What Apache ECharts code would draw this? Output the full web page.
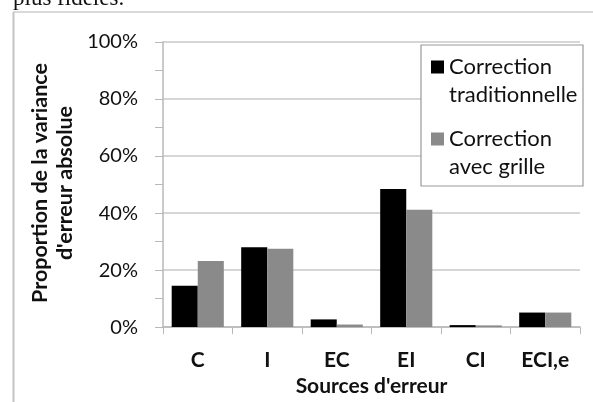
<!DOCTYPE html>
<html><head><meta charset="utf-8">
<script src="https://cdn.jsdelivr.net/npm/echarts@6/dist/echarts.min.js"></script>
<style>html,body{margin:0;padding:0;background:#fff}#c{width:593px;height:402px}</style>
</head><body><div id="c"></div>
<script>
var categories = ['C', 'I', 'EC', 'EI', 'CI', 'ECI,e'];
var seriesNames = ['Correction\ntraditionnelle', 'Correction\navec grille'];
var traditionnelle = [0.145, 0.280, 0.027, 0.484, 0.007, 0.051];
var avecGrille = [0.232, 0.275, 0.009, 0.412, 0.006, 0.051];
var yTicks = [0, 0.2, 0.4, 0.6, 0.8, 1.0];
var yTitle = "Proportion de la variance\nd'erreur absolue";
var xTitle = "Sources d'erreur";
var FONT = 'Lato';

var chart = echarts.init(document.getElementById('c'), null, {renderer: 'canvas'});
function legendFor(i, top) {
  return {
    data: [seriesNames[i]], left: 431, top: top, orient: 'vertical', padding: 0,
    icon: 'rect', itemWidth: 13, itemHeight: 13, itemGap: 7,
    formatter: function (name) { return '\n' + name; },
    textStyle: {fontFamily: FONT, fontSize: 22, color: '#111', lineHeight: 28}
  };
}
chart.setOption({
  animation: false,
  grid: {left: 163, right: 13, top: 42, bottom: 68},
  legend: [legendFor(0, 25), legendFor(1, 97)],
  xAxis: {
    type: 'category', data: categories,
    axisLine: {lineStyle: {color: '#b8b8b8', width: 1.5}},
    axisTick: {show: true, length: 7, lineStyle: {color: '#b8b8b8'}},
    axisLabel: {fontFamily: FONT, fontWeight: 'bold', fontSize: 21, color: '#111', margin: 23},
    name: xTitle, nameLocation: 'middle', nameGap: 38,
    nameTextStyle: {fontFamily: FONT, fontWeight: 'bold', fontSize: 21, color: '#111'}
  },
  yAxis: {
    type: 'value', min: 0, max: 1, interval: 0.2,
    axisLine: {show: true, lineStyle: {color: '#b8b8b8', width: 1.5}},
    axisTick: {show: true, length: 8, lineStyle: {color: '#b8b8b8'}},
    minorTick: {show: true, splitNumber: 2, length: 8, lineStyle: {color: '#b8b8b8'}},
    splitLine: {lineStyle: {color: '#c8c8c8', width: 1.5}},
    axisLabel: {fontFamily: FONT, fontSize: 20, color: '#111', margin: 25, padding: [8, 0, 0, 0],
      formatter: function (v) { return Math.round(v * 100) + '%'; }}
  },
  series: [
    {name: seriesNames[0], type: 'bar', data: traditionnelle, barGap: '0%', barCategoryGap: '25%',
      itemStyle: {color: '#000'}},
    {name: seriesNames[1], type: 'bar', data: avecGrille, barGap: '0%', barCategoryGap: '25%',
      itemStyle: {color: '#8a8a8a'}}
  ],
  graphic: [
    {type: 'text', left: 13, top: -13, z: 10,
      style: {text: 'plus fidèles.', fontFamily: 'Liberation Serif', fontSize: 23, fill: '#111'}},
    {type: 'line', z: 10, shape: {x1: 13.5, y1: 12, x2: 13.5, y2: 402}, style: {stroke: '#c4c4c4', lineWidth: 2}},
    {type: 'line', z: 10, shape: {x1: 13, y1: 12, x2: 593, y2: 12}, style: {stroke: '#cccccc', lineWidth: 1.5}},
    {type: 'rect', z: 3, shape: {x: 421, y: 45, width: 162, height: 141},
      style: {fill: '#fff', stroke: '#999', lineWidth: 1.2}},
    {type: 'text', z: 10, x: 53, y: 183, rotation: Math.PI / 2,
      style: {text: yTitle, fontFamily: FONT, fontWeight: 'bold', fontSize: 21.5, lineHeight: 25,
        fill: '#111', align: 'center', verticalAlign: 'middle'}}
  ]
});
</script></body></html>
